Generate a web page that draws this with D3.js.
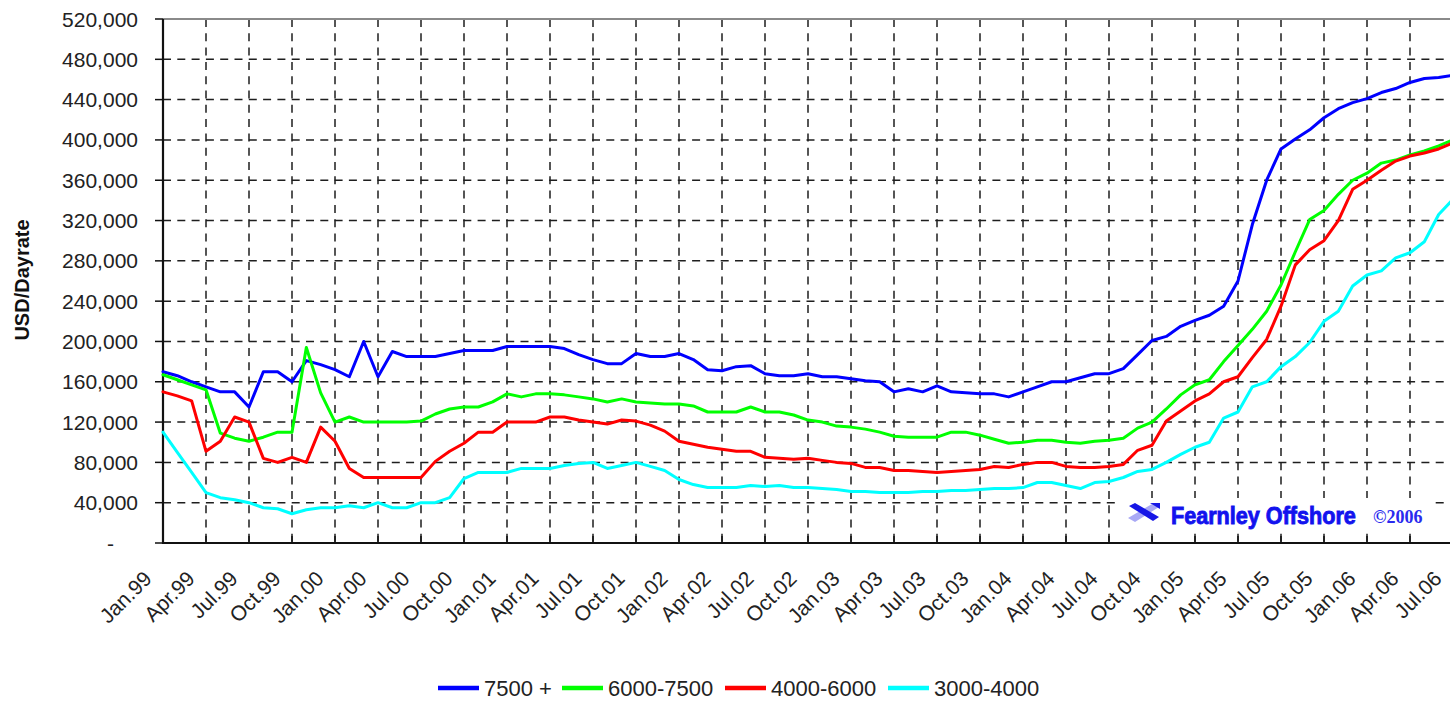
<!DOCTYPE html>
<html>
<head>
<meta charset="utf-8">
<script src="https://cdn.jsdelivr.net/npm/d3@7"></script>
<style>
  body { margin: 0; background: #fff; }
  svg { display: block; font-family: "Liberation Sans", Arial, sans-serif; }
</style>
</head>
<body>
<svg id="chart" width="1450" height="701"></svg>
<script>
// Monthly categories, Jan 1999 .. Jul 2006
const months = d3.timeMonth.range(new Date(1999, 0, 1), new Date(2006, 7, 1)).map(d3.timeFormat("%Y-%m"));

// Quarterly axis labels
const quarterLabels = [
  "Jan.99","Apr.99","Jul.99","Oct.99","Jan.00","Apr.00","Jul.00","Oct.00",
  "Jan.01","Apr.01","Jul.01","Oct.01","Jan.02","Apr.02","Jul.02","Oct.02",
  "Jan.03","Apr.03","Jul.03","Oct.03","Jan.04","Apr.04","Jul.04","Oct.04",
  "Jan.05","Apr.05","Jul.05","Oct.05","Jan.06","Apr.06","Jul.06"
];

const yTicks = [0, 40000, 80000, 120000, 160000, 200000, 240000, 280000, 320000, 360000, 400000, 440000, 480000, 520000];

const seriesNames = ["7500 +", "6000-7500", "4000-6000", "3000-4000"];
const seriesColors = ["#0000ff", "#00ff00", "#ff0000", "#00ffff"];

// Day rates, USD, one value per month
const rate7500plus = [
  170000,166000,160000,155000,150000,150000,135000,170000,170000,160000,181000,177000,
  172000,165000,200000,165000,190000,185000,185000,185000,188000,191000,191000,191000,
  195000,195000,195000,195000,193000,187000,182000,178000,178000,188000,185000,185000,
  188000,182000,172000,171000,175000,176000,168000,166000,166000,168000,165000,165000,
  163000,161000,160000,150000,153000,150000,156000,150000,149000,148000,148000,145000,
  150000,155000,160000,160000,164000,168000,168000,173000,187000,201000,205000,215000,
  221000,226000,235000,260000,316000,360000,391000,401000,410000,422000,431000,437000,
  441000,447000,451000,457000,461000,462000,464000
];
const rate6000to7500 = [
  167000,162000,157000,152000,109000,104000,101000,105000,110000,110000,194000,149000,
  120000,125000,120000,120000,120000,120000,121000,128000,133000,135000,135000,140000,
  148000,145000,148000,148000,147000,145000,143000,140000,143000,140000,139000,138000,
  138000,136000,130000,130000,130000,135000,130000,130000,127000,122000,120000,116000,
  115000,113000,110000,106000,105000,105000,105000,110000,110000,107000,103000,99000,
  100000,102000,102000,100000,99000,101000,102000,104000,114000,120000,133000,147000,
  157000,162000,180000,196000,212000,230000,256000,289000,321000,330000,346000,360000,
  367000,377000,380000,385000,389000,394000,400000
];
const rate4000to6000 = [
  150000,146000,141000,91000,101000,125000,120000,84000,80000,85000,80000,115000,
  101000,74000,65000,65000,65000,65000,65000,81000,91000,99000,110000,110000,
  120000,120000,120000,125000,125000,122000,120000,118000,122000,121000,117000,111000,
  101000,98000,95000,93000,91000,91000,85000,84000,83000,84000,82000,80000,
  79000,75000,75000,72000,72000,71000,70000,71000,72000,73000,76000,75000,
  78000,80000,80000,76000,75000,75000,76000,78000,92000,97000,121000,131000,
  141000,148000,160000,165000,184000,202000,235000,276000,291000,300000,320000,351000,
  360000,370000,379000,384000,387000,391000,397000
];
const rate3000to4000 = [
  110000,90000,70000,50000,45000,43000,40000,35000,34000,29000,33000,35000,
  35000,37000,35000,40000,35000,35000,40000,40000,45000,64000,70000,70000,
  70000,74000,74000,74000,77000,79000,80000,74000,77000,80000,76000,72000,
  63000,58000,55000,55000,55000,57000,56000,57000,55000,55000,54000,53000,
  51000,51000,50000,50000,50000,51000,51000,52000,52000,53000,54000,54000,
  55000,60000,60000,57000,54000,60000,61000,65000,71000,73000,80000,88000,
  95000,100000,124000,130000,155000,160000,175000,185000,199000,220000,230000,255000,
  266000,270000,283000,288000,299000,326000,341000
];
const seriesValues = [rate7500plus, rate6000to7500, rate4000to6000, rate3000to4000];

const svg = d3.select("#chart");
const plotLeft = 163, plotRight = 1453, plotTop = 19, plotBottom = 543;

const x = d3.scalePoint().domain(months).range([plotLeft, plotRight]).padding(0);
const y = d3.scaleLinear().domain([0, 520000]).range([plotBottom, plotTop]);

const quarterMonths = months.filter((m, i) => i % 3 === 0);
const fmt = d3.format(",");

// dashed grid
const grid = svg.append("g").attr("stroke", "#1e1e1e").attr("stroke-width", 1.5).attr("stroke-dasharray", "8,6.3");
grid.selectAll("line.h").data(yTicks.filter(v => v > 0 && v < 520000)).join("line").attr("class", "h")
  .attr("x1", plotLeft).attr("x2", plotRight).attr("y1", d => y(d)).attr("y2", d => y(d));
grid.selectAll("line.v").data(quarterMonths.slice(1)).join("line").attr("class", "v")
  .attr("x1", d => x(d)).attr("x2", d => x(d)).attr("y1", plotTop).attr("y2", plotBottom);

// frame
svg.append("line").attr("x1", plotLeft).attr("x2", plotRight).attr("y1", plotTop).attr("y2", plotTop)
  .attr("stroke", "#8a8a8a").attr("stroke-width", 2.2);

// company mark
const logo = svg.append("g");
logo.append("rect").attr("x", 1120).attr("y", 498).attr("width", 312).attr("height", 34).attr("fill", "#fff");
logo.append("path").attr("d", "M1128,518 L1152,504 L1159,507 L1135,522 Z").attr("fill", "#a9a9f5");
logo.append("path").attr("d", "M1129,506 L1135,503 L1159,517 L1153,521 Z").attr("fill", "#1616e6");
logo.append("path").attr("d", "M1150,503 L1160,503 L1160,509 Z").attr("fill", "#1616e6");
logo.append("text").attr("transform", "translate(1171,524) scale(0.9,1)")
  .attr("font-family", "'Liberation Sans',Arial,sans-serif")
  .attr("font-weight", "bold").attr("font-size", 24)
  .attr("fill", "#1212ee").attr("stroke", "#1212ee").attr("stroke-width", 0.9)
  .text("Fearnley Offshore");
logo.append("text").attr("x", 1373).attr("y", 523)
  .attr("font-family", "'Liberation Serif','DejaVu Serif',serif")
  .attr("font-weight", "bold").attr("font-size", 18)
  .attr("fill", "#2a2aee")
  .text("\u00a92006");

// axes
svg.append("line").attr("x1", plotLeft).attr("x2", plotLeft).attr("y1", plotTop).attr("y2", plotBottom + 1)
  .attr("stroke", "#111").attr("stroke-width", 2.2);
svg.append("line").attr("x1", plotLeft - 1).attr("x2", plotRight).attr("y1", plotBottom).attr("y2", plotBottom)
  .attr("stroke", "#111").attr("stroke-width", 2.2);

// y ticks and labels
const yAxis = svg.append("g");
yAxis.selectAll("line").data(yTicks).join("line")
  .attr("x1", plotLeft - 8).attr("x2", plotLeft).attr("y1", d => y(d)).attr("y2", d => y(d))
  .attr("stroke", "#111").attr("stroke-width", 1.5);
yAxis.selectAll("text").data(yTicks).join("text")
  .attr("x", d => d === 0 ? 114 : 138).attr("y", d => y(d)).attr("dy", "0.36em")
  .attr("text-anchor", "end").attr("font-size", 21).attr("fill", "#222")
  .text(d => d === 0 ? "-" : fmt(d));

// x ticks and labels
const xAxis = svg.append("g");
xAxis.selectAll("line").data(quarterMonths.slice(1)).join("line")
  .attr("x1", d => x(d)).attr("x2", d => x(d)).attr("y1", plotBottom - 7).attr("y2", plotBottom)
  .attr("stroke", "#111").attr("stroke-width", 1.5);
xAxis.selectAll("text").data(quarterMonths).join("text")
  .attr("transform", d => `translate(${x(d) - 10},580) rotate(-45)`)
  .attr("text-anchor", "end").attr("font-size", 21).attr("fill", "#222")
  .text((d, i) => quarterLabels[i]);

// axis title
svg.append("text").attr("transform", "translate(29,280) rotate(-90)")
  .attr("text-anchor", "middle").attr("font-size", 20).attr("font-weight", "bold").attr("fill", "#111")
  .text("USD/Dayrate");

// series
const line = d3.line().x((d, i) => x(months[i])).y(d => y(d));
svg.append("g").selectAll("path").data(seriesValues).join("path")
  .attr("d", d => line(d)).attr("fill", "none")
  .attr("stroke", (d, i) => seriesColors[i]).attr("stroke-width", 3)
  .attr("stroke-linejoin", "round").attr("stroke-linecap", "round");

// legend
const legendX = [438, 562, 725, 888];
const legend = svg.append("g").selectAll("g").data(seriesNames).join("g")
  .attr("transform", (d, i) => `translate(${legendX[i]},688)`);
legend.append("line").attr("x1", 0).attr("x2", 41).attr("y1", 0).attr("y2", 0)
  .attr("stroke", (d, i) => seriesColors[i]).attr("stroke-width", 4.5);
legend.append("text").attr("x", 46).attr("y", 0).attr("dy", "0.36em")
  .attr("font-size", 22).attr("fill", "#222").text(d => d);
</script>
</body>
</html>
